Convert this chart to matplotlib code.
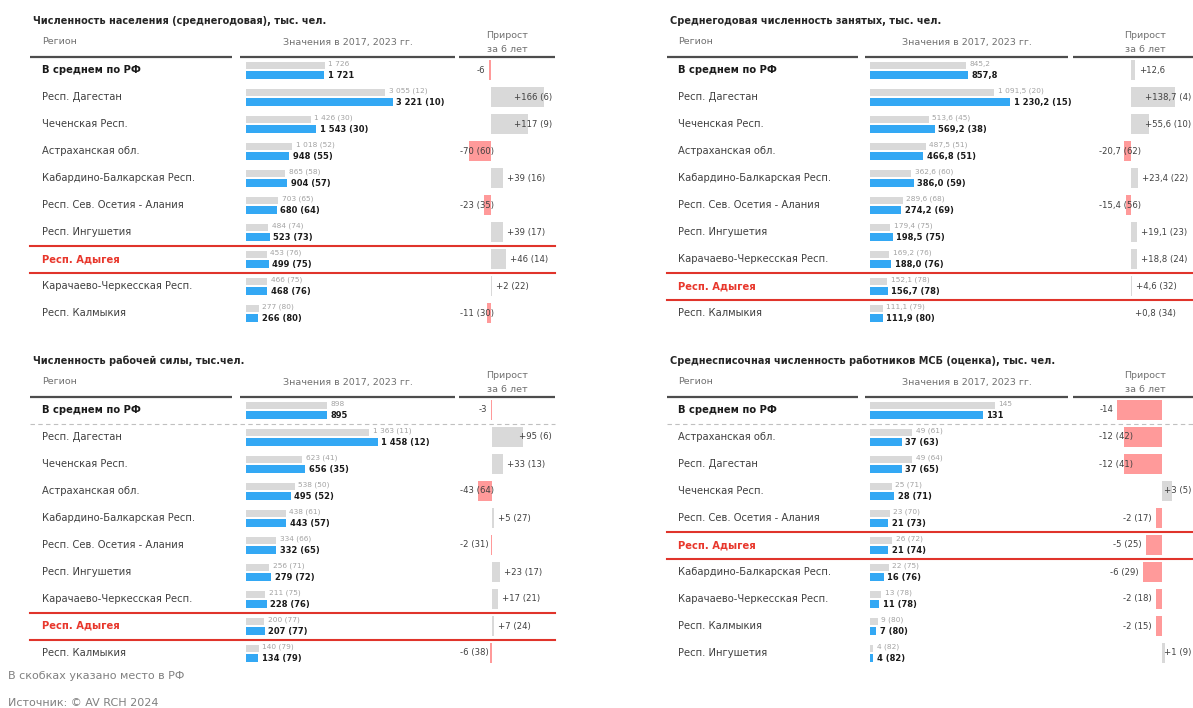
import matplotlib
matplotlib.use("Agg")
import matplotlib.pyplot as plt

plt.rcParams['font.family'] = ['DejaVu Sans']

W, H = 1193, 708

# ---- data ----
titles = [
    "Численность населения (среднегодовая), тыс. чел.",
    "Среднегодовая численность занятых, тыс. чел.",
    "Численность рабочей силы, тыс.чел.",
    "Среднесписочная численность работников МСБ (оценка), тыс. чел.",
]

pop_regions = ["В среднем по РФ", "Респ. Дагестан", "Чеченская Респ.", "Астраханская обл.",
               "Кабардино-Балкарская Респ.", "Респ. Сев. Осетия - Алания", "Респ. Ингушетия",
               "Респ. Адыгея", "Карачаево-Черкесская Респ.", "Респ. Калмыкия"]
pop_2017 = [1726, 3055, 1426, 1018, 865, 703, 484, 453, 466, 277]
pop_2023 = [1721, 3221, 1543, 948, 904, 680, 523, 499, 468, 266]
pop_rank_2017 = [None, 12, 30, 52, 58, 65, 74, 76, 75, 80]
pop_rank_2023 = [None, 10, 30, 55, 57, 64, 73, 75, 76, 80]
pop_growth = [-6, 166, 117, -70, 39, -23, 39, 46, 2, -11]
pop_growth_rank = [None, 6, 9, 60, 16, 35, 17, 14, 22, 30]

emp_regions = ["В среднем по РФ", "Респ. Дагестан", "Чеченская Респ.", "Астраханская обл.",
               "Кабардино-Балкарская Респ.", "Респ. Сев. Осетия - Алания", "Респ. Ингушетия",
               "Карачаево-Черкесская Респ.", "Респ. Адыгея", "Респ. Калмыкия"]
emp_2017 = [845.2, 1091.5, 513.6, 487.5, 362.6, 289.6, 179.4, 169.2, 152.1, 111.1]
emp_2023 = [857.8, 1230.2, 569.2, 466.8, 386.0, 274.2, 198.5, 188.0, 156.7, 111.9]
emp_rank_2017 = [None, 20, 45, 51, 60, 68, 75, 76, 78, 79]
emp_rank_2023 = [None, 15, 38, 51, 59, 69, 75, 76, 78, 80]
emp_growth = [12.6, 138.7, 55.6, -20.7, 23.4, -15.4, 19.1, 18.8, 4.6, 0.8]
emp_growth_rank = [None, 4, 10, 62, 22, 56, 23, 24, 32, 34]

lab_regions = ["В среднем по РФ", "Респ. Дагестан", "Чеченская Респ.", "Астраханская обл.",
               "Кабардино-Балкарская Респ.", "Респ. Сев. Осетия - Алания", "Респ. Ингушетия",
               "Карачаево-Черкесская Респ.", "Респ. Адыгея", "Респ. Калмыкия"]
lab_2017 = [898, 1363, 623, 538, 438, 334, 256, 211, 200, 140]
lab_2023 = [895, 1458, 656, 495, 443, 332, 279, 228, 207, 134]
lab_rank_2017 = [None, 11, 41, 50, 61, 66, 71, 75, 77, 79]
lab_rank_2023 = [None, 12, 35, 52, 57, 65, 72, 76, 77, 79]
lab_growth = [-3, 95, 33, -43, 5, -2, 23, 17, 7, -6]
lab_growth_rank = [None, 6, 13, 64, 27, 31, 17, 21, 24, 38]

msb_regions = ["В среднем по РФ", "Астраханская обл.", "Респ. Дагестан", "Чеченская Респ.",
               "Респ. Сев. Осетия - Алания", "Респ. Адыгея", "Кабардино-Балкарская Респ.",
               "Карачаево-Черкесская Респ.", "Респ. Калмыкия", "Респ. Ингушетия"]
msb_2017 = [145, 49, 49, 25, 23, 26, 22, 13, 9, 4]
msb_2023 = [131, 37, 37, 28, 21, 21, 16, 11, 7, 4]
msb_rank_2017 = [None, 61, 64, 71, 70, 72, 75, 78, 80, 82]
msb_rank_2023 = [None, 63, 65, 71, 73, 74, 76, 78, 80, 82]
msb_growth = [-14, -12, -12, 3, -2, -5, -6, -2, -2, 1]
msb_growth_rank = [None, 42, 41, 5, 17, 25, 29, 18, 15, 9]

highlight = "Респ. Адыгея"
average = "В среднем по РФ"

# ---- styles ----
C_GRAY_BAR = "#d9d9d9"
C_BLUE = "#33a8f4"
C_PINK = "#ff9a9a"
C_RED = "#e0342b"
C_TEXT = "#404040"

fig = plt.figure(figsize=(W / 100, H / 100), dpi=100)
renderer = fig.canvas.get_renderer()


def px_axes(x0, y0, w, h):
    ax = fig.add_axes([x0 / W, 1 - (y0 + h) / H, w / W, h / H])
    ax.set_axis_off()
    ax.patch.set_alpha(0)
    return ax


def fig_text(x, y, s, **kw):
    return fig.text(x / W, 1 - y / H, s, **kw)


def fmt(v, dec):
    if dec:
        s = f"{v:,.1f}"
    else:
        s = f"{v:,.0f}"
    return s.replace(",", " ").replace(".", ",")


def with_rank(s, r):
    return s if r is None else f"{s} ({r})"


sides = {
    "left": dict(x0=30, x1=555, name_x=42,
                 cols=[(30, 232), (240, 455), (459, 555)],
                 val_x0=246, gr_min=460, gr_max=552),
    "right": dict(x0=667, x1=1193, name_x=678,
                  cols=[(667, 858), (865, 1068), (1073, 1217)],
                  val_x0=870, gr_min=1099, gr_max=1191),
}

# title, regions, 2017, 2023, ranks, growth, side, y-offset, value axis max,
# growth zero (px), growth px per unit, decimals, dashed line under average
panels = [
    (titles[0], pop_regions, pop_2017, pop_2023, pop_rank_2017, pop_rank_2023,
     pop_growth, pop_growth_rank, "left", 0, 4386, 491, 0.32, False, False),
    (titles[1], emp_regions, emp_2017, emp_2023, emp_rank_2017, emp_rank_2023,
     emp_growth, emp_growth_rank, "right", 0, 1754, 1131, 0.317, True, False),
    (titles[2], lab_regions, lab_2017, lab_2023, lab_rank_2017, lab_rank_2023,
     lab_growth, lab_growth_rank, "left", 340, 2210, 492, 0.33, False, True),
    (titles[3], msb_regions, msb_2017, msb_2023, msb_rank_2017, msb_rank_2023,
     msb_growth, msb_growth_rank, "right", 340, 232, 1162, 3.2, False, True),
]

ROW = 27
for (title, regions, v17, v23, r17, r23, gr, grr, side, dy, vmax,
     zero, scale, dec, dashed) in panels:
    S = sides[side]
    n = len(regions)
    top = 56.5 + dy

    # titles and headers
    fig_text(S["x0"] + 3, 21 + dy, title, fontsize=7, fontweight="bold",
             color="#262626", va="center")
    fig_text(S["name_x"], 42 + dy, "Регион", fontsize=6.8, color="#707070", va="center")
    c2 = S["cols"][1]
    fig_text((c2[0] + c2[1]) / 2, 42 + dy, "Значения в 2017, 2023 гг.", fontsize=6.8,
             color="#707070", va="center", ha="center")
    c3 = S["cols"][2]
    fig_text((c3[0] + c3[1]) / 2, 35 + dy, "Прирост", fontsize=6.8,
             color="#707070", va="center", ha="center")
    fig_text((c3[0] + c3[1]) / 2, 49 + dy, "за 6 лет", fontsize=6.8,
             color="#707070", va="center", ha="center")

    # table axes (x in pixels, y in rows)
    ax_t = px_axes(S["x0"], top, S["x1"] - S["x0"], n * ROW)
    ax_t.set_xlim(S["x0"], S["x1"])
    ax_t.set_ylim(n - 0.5, -0.5)
    for c0, c1 in S["cols"]:
        ax_t.plot([c0, min(c1, W)], [-0.5, -0.5], color="#4d4d4d", lw=1.6,
                  solid_capstyle="butt", clip_on=False)
    if dashed:
        ax_t.plot([S["x0"], S["x1"]], [0.5, 0.5], color="#c0c0c0", lw=0.8,
                  ls=(0, (4, 3)), clip_on=False)

    for i, name in enumerate(regions):
        kw = dict(fontsize=7.2, color=C_TEXT, va="center")
        if name == average:
            kw.update(color="#1a1a1a", fontweight="bold")
        if name == highlight:
            kw.update(color="#e8372c", fontweight="bold")
            for yy in (i - 0.5, i + 0.5):
                ax_t.plot([S["x0"], S["x1"]], [yy, yy], color=C_RED, lw=1.5,
                          clip_on=False)
        ax_t.text(S["name_x"], i, name, **kw)

    # value bars
    ax_v = px_axes(S["val_x0"], top, 200, n * ROW)
    ax_v.set_xlim(0, vmax)
    ax_v.set_ylim(n - 0.5, -0.5)
    ys = list(range(n))
    ax_v.barh([y - 0.17 for y in ys], v17, height=0.26, color=C_GRAY_BAR, left=0)
    ax_v.barh([y + 0.19 for y in ys], v23, height=0.31, color=C_BLUE, left=0)
    for i in ys:
        ax_v.annotate(with_rank(fmt(v17[i], dec), r17[i]), (v17[i], i - 0.22),
                      xytext=(2.5, 0), textcoords="offset points", fontsize=5.3,
                      color="#a3a3a3", va="center", annotation_clip=False)
        ax_v.annotate(with_rank(fmt(v23[i], dec), r23[i]), (v23[i], i + 0.2),
                      xytext=(2.5, 0), textcoords="offset points", fontsize=6,
                      fontweight="bold", color="#1a1a1a", va="center",
                      annotation_clip=False)

    # growth bars
    ax_g = px_axes(c3[0], top, c3[1] - c3[0], n * ROW)
    ax_g.set_xlim((c3[0] - zero) / scale, (c3[1] - zero) / scale)
    ax_g.set_ylim(n - 0.5, -0.5)
    ax_g.barh(ys, gr, height=0.72,
              color=[C_GRAY_BAR if g > 0 else C_PINK for g in gr])
    inv = ax_g.transData.inverted()
    for i in ys:
        g = gr[i]
        s = fmt(g, dec)
        s = ("+" + s) if g > 0 else s
        t = ax_g.text(g, i, with_rank(s, grr[i]), fontsize=6.1, color=C_TEXT,
                      va="center", ha="left", clip_on=False)
        w = t.get_window_extent(renderer=renderer).width
        end_disp = ax_g.transData.transform((g, i))
        if g > 0:
            left = min(end_disp[0] + 4, S["gr_max"] - w)
        else:
            left = max(end_disp[0] - 4 - w, S["gr_min"])
        t.set_position((inv.transform((left, end_disp[1]))[0], i))

# footer
fig_text(8, 676, "В скобках указано место в РФ", fontsize=8, color="#808080", va="center")
fig_text(8, 703, "Источник: © AV RCH 2024", fontsize=8, color="#808080", va="center")

fig.savefig("out.png", dpi=100)
